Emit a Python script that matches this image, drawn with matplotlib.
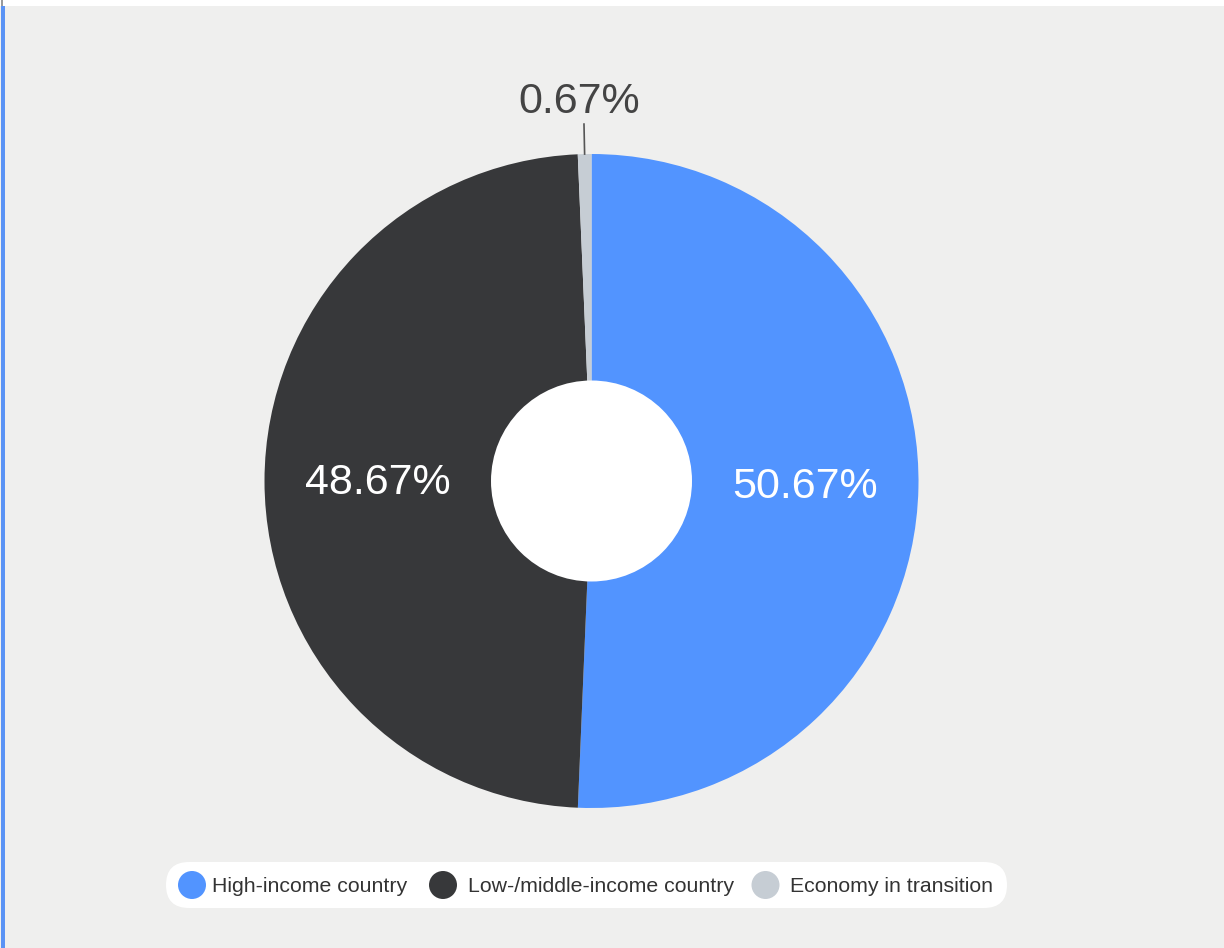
import numpy as np
import matplotlib
matplotlib.use("Agg")
import matplotlib.pyplot as plt
from matplotlib.patches import Circle, FancyBboxPatch, Rectangle

# Share of entries by economy group
categories = ["High-income country", "Low-/middle-income country", "Economy in transition"]
shares = [50.67, 48.67, 0.67]
colors = ["#5294ff", "#37383a", "#c6cdd4"]
label_colors = ["white", "white", "#444444"]

plt.rcParams["font.family"] = ["Liberation Sans", "DejaVu Sans"]

W, H = 1224, 948
fig = plt.figure(figsize=(W / 100, H / 100), dpi=100)
fig.patch.set_facecolor("white")
ax = fig.add_axes([0, 0, 1, 1])

# panel background with a thin accent stripe at the left edge
ax.add_patch(Rectangle((0, 0), W, H - 6, facecolor="#efefee", edgecolor="none", zorder=0))
ax.add_patch(Rectangle((1, 0), 3.5, H - 6, facecolor="#5a93f5", edgecolor="none", zorder=1))
ax.add_patch(Rectangle((1, H - 6), 2, 6, facecolor="#9a9a9a", edgecolor="none", zorder=1))

cx, cy = 591.5, H - 481
R, r_in = 327, 100.5
wedges, _ = ax.pie(shares, colors=colors, startangle=90, counterclock=False,
                   center=(cx, cy), radius=R, frame=True,
                   wedgeprops=dict(linewidth=0))
ax.set_xlim(0, W)
ax.set_ylim(0, H)
ax.set_aspect("equal")
ax.axis("off")
ax.add_patch(Circle((cx, cy), r_in, facecolor="white", edgecolor="none", zorder=5))

for w, v, tc in zip(wedges, shares, label_colors):
    mid = np.deg2rad((w.theta1 + w.theta2) / 2)
    txt = f"{v:.2f}%"
    if v > 5:
        d = 213.5
        ax.text(cx + d * np.cos(mid), cy + d * np.sin(mid) - 13, txt, color=tc,
                fontsize=31, ha="center", va="baseline", zorder=6)
    else:
        x0, y0 = cx + R * np.cos(mid), cy + R * np.sin(mid)
        x1, y1 = cx + (R + 30) * np.cos(mid), cy + (R + 30) * np.sin(mid)
        ax.plot([x0, x1], [y0, y1], color="#555555", lw=1.2, zorder=6)
        ax.text(cx + (R + 56) * np.cos(mid) - 4, cy + (R + 56) * np.sin(mid) - 15, txt,
                color=tc, fontsize=31, ha="center", va="baseline", zorder=6)

# legend pill
lx0, lx1, ly = 166, 1007, H - 885
ax.add_patch(FancyBboxPatch((lx0, ly - 23), lx1 - lx0, 46,
                            boxstyle="round,pad=0,rounding_size=23",
                            facecolor="white", edgecolor="none", zorder=5))
marker_x = [192, 443, 765.5]
text_x = [212.5, 467.5, 790]
for mx, tx, name, c in zip(marker_x, text_x, categories, colors):
    ax.add_patch(Circle((mx, ly), 14, facecolor=c, edgecolor="none", zorder=6))
    ax.text(tx, ly - 1, name, color="#333333", fontsize=15.3,
            ha="left", va="center", zorder=6)

fig.savefig("out.png", dpi=100, facecolor=fig.get_facecolor())
